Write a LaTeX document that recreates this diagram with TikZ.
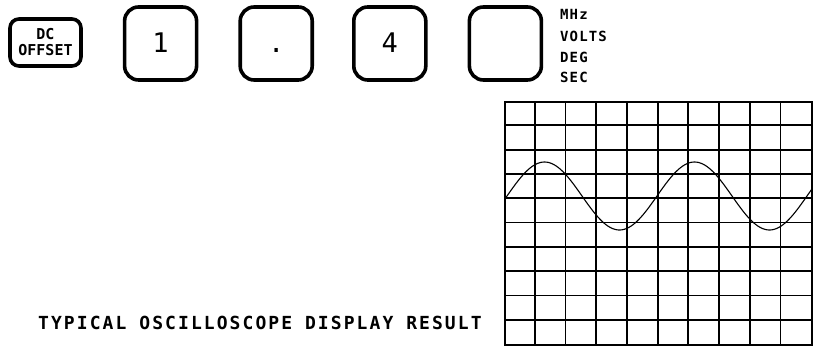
\documentclass[tikz,border=0pt]{standalone}
\usepackage{fontspec}
\newfontfamily\plotfont{DejaVu Sans Mono}
\usetikzlibrary{positioning}

\begin{document}
\begin{tikzpicture}[
    x=1pt, y=-1pt,
    every node/.style={font=\plotfont},
    key/.style={draw, line width=3.6pt, rounded corners=14pt, minimum width=72pt,
                minimum height=73pt, inner sep=0pt, text height=19pt, text depth=0pt,
                font=\plotfont\fontsize{27}{27}\selectfont},
    smallkey/.style={key, rounded corners=9pt, minimum width=71pt, minimum height=47pt,
                     text height=, text depth=, align=center,
                     font=\plotfont\bfseries\fontsize{15}{15}\selectfont},
    unitlabel/.style={anchor=base west, inner sep=0pt,
                      font=\plotfont\bfseries\fontsize{14}{14}\selectfont\addfontfeature{LetterSpace=8}},
    caption/.style={anchor=base west, inner sep=0pt,
                    font=\plotfont\bfseries\fontsize{18}{18}\selectfont\addfontfeature{LetterSpace=11.5}},
    gridline/.style={line width=1.8pt},
    trace/.style={line width=1.1pt},
]
\useasboundingbox (0,0) rectangle (820,347);
\node[smallkey] (k_dc) at (45.5,42.5) {DC\\[1pt]OFFSET};
\node[key, right=40pt of k_dc.east, anchor=west, yshift=-1pt] (k_one) {1};
\node[key, right=40pt of k_one] (k_dot) {.};
\node[key, right=38pt of k_dot] (k_four) {4};
\node[key, right=40pt of k_four] (k_unit) {};
\node[unitlabel] (u_mhz) at (560,20) {MHz};
\node[unitlabel] (u_volts) at (560,42) {VOLTS};
\node[unitlabel] (u_deg) at (560,63) {DEG};
\node[unitlabel] (u_sec) at (560,83) {SEC};
% screen with graticule
\node[draw, gridline, minimum width=307pt, minimum height=243pt, inner sep=0pt] (screen) at (658.5,223.5) {};
\foreach \i in {1,...,9} {
  \draw[gridline] ([xshift=\i*30.7pt]screen.north west) -- ([xshift=\i*30.7pt]screen.south west);
  \draw[gridline] ([yshift=-\i*24.3pt]screen.north west) -- ([yshift=-\i*24.3pt]screen.north east);
}
\draw[trace] plot[domain=505:812, samples=150, smooth] (\x, {196 - 34*sin(2.4*(\x-507))});
\node[caption] (cap) at (38,329.5) {TYPICAL OSCILLOSCOPE DISPLAY RESULT};
\end{tikzpicture}
\end{document}
